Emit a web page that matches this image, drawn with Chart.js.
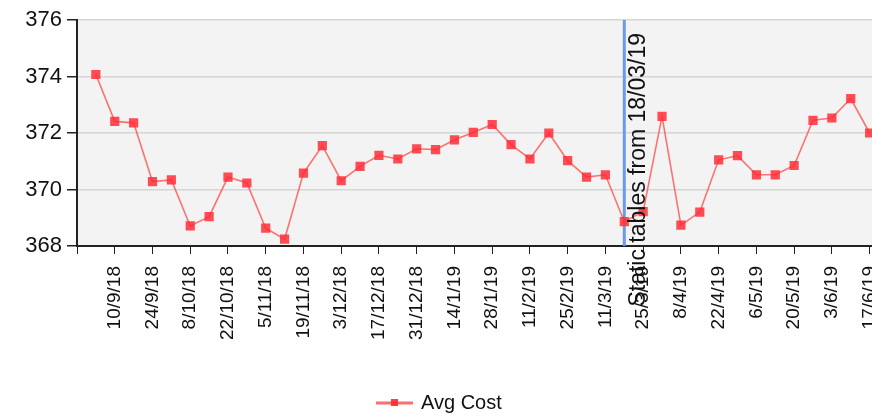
<!DOCTYPE html>
<html>
<head>
<meta charset="utf-8">
<script src="https://cdn.jsdelivr.net/npm/chart.js@4"></script>
<style>
  html, body { margin: 0; padding: 0; background: #fff; overflow: hidden; }
  #wrap { width: 895px; height: 417px; }
</style>
</head>
<body>
<div id="wrap"><canvas id="costChart" width="895" height="417"></canvas></div>
<script>
// semanas (lunes); el primer y el último hueco no tienen dato
const weeks = [
  '27/8/18', '3/9/18', '10/9/18', '17/9/18', '24/9/18', '1/10/18', '8/10/18', '15/10/18',
  '22/10/18', '29/10/18', '5/11/18', '12/11/18', '19/11/18', '26/11/18', '3/12/18', '10/12/18',
  '17/12/18', '24/12/18', '31/12/18', '7/1/19', '14/1/19', '21/1/19', '28/1/19', '4/2/19',
  '11/2/19', '18/2/19', '25/2/19', '4/3/19', '11/3/19', '18/3/19', '25/3/19', '1/4/19',
  '8/4/19', '15/4/19', '22/4/19', '29/4/19', '6/5/19', '13/5/19', '20/5/19', '27/5/19',
  '3/6/19', '10/6/19', '17/6/19', '24/6/19'
];
const avgCost = [
  null, 374.07, 372.41, 372.36, 370.28, 370.34, 368.71, 369.04,
  370.44, 370.23, 368.63, 368.24, 370.58, 371.55, 370.31, 370.82,
  371.21, 371.08, 371.44, 371.41, 371.76, 372.02, 372.30, 371.59,
  371.08, 372.00, 371.02, 370.44, 370.52, 368.86, 369.22, 372.59,
  368.74, 369.20, 371.05, 371.20, 370.52, 370.52, 370.85, 372.45,
  372.53, 373.22, 372.00, null
];
const yTicks = [368, 370, 372, 374, 376];
const markerWeek = '18/3/19';
const markerText = 'Static tables from 18/03/19';

// fondo gris del área, línea azul y texto vertical
const extras = {
  id: 'extras',
  beforeDraw(chart) {
    const { ctx, chartArea: a } = chart;
    ctx.save();
    ctx.fillStyle = '#f3f3f3';
    ctx.fillRect(a.left, a.top, a.right - a.left, a.bottom - a.top);
    ctx.restore();
  },
  beforeDatasetsDraw(chart) {
    const { ctx, chartArea: a, scales } = chart;
    const x = scales.x.getPixelForValue(weeks.indexOf(markerWeek));
    ctx.save();
    ctx.strokeStyle = '#6b9be6';
    ctx.lineWidth = 3;
    ctx.beginPath();
    ctx.moveTo(x, a.top);
    ctx.lineTo(x, a.bottom);
    ctx.stroke();
    ctx.restore();
  },
  afterDraw(chart) {
    const { ctx, scales } = chart;
    const x = scales.x.getPixelForValue(weeks.indexOf(markerWeek));
    ctx.save();
    ctx.translate(x + 21, 33);
    ctx.rotate(-Math.PI / 2);
    ctx.font = '23px "Liberation Sans", Arial, sans-serif';
    ctx.fillStyle = '#111';
    ctx.textAlign = 'right';
    ctx.textBaseline = 'alphabetic';
    ctx.fillText(markerText, 0, 0);
    ctx.restore();

    // leyenda
    ctx.save();
    ctx.strokeStyle = 'rgba(255,60,60,0.75)';
    ctx.lineWidth = 3;
    ctx.beginPath();
    ctx.moveTo(376, 403);
    ctx.lineTo(413, 403);
    ctx.stroke();
    ctx.fillStyle = 'rgba(255,40,50,0.9)';
    ctx.fillRect(391, 399, 7, 7);
    ctx.font = '20px "Liberation Sans", Arial, sans-serif';
    ctx.fillStyle = '#111';
    ctx.textBaseline = 'middle';
    ctx.fillText('Avg Cost', 421, 403);
    ctx.restore();
  }
};

new Chart(document.getElementById('costChart'), {
  type: 'line',
  data: {
    labels: weeks,
    datasets: [{
      label: 'Avg Cost',
      data: avgCost,
      borderColor: 'rgba(255,80,80,0.8)',
      borderWidth: 1.6,
      backgroundColor: 'rgba(255,45,55,0.85)',
      pointStyle: 'rect',
      pointRadius: 6.5,
      pointBorderWidth: 0,
      tension: 0,
      spanGaps: false
    }]
  },
  options: {
    responsive: false,
    animation: false,
    layout: { padding: { top: 20, right: 0, bottom: 0, left: 0 } },
    plugins: { legend: { display: false }, tooltip: { enabled: false } },
    scales: {
      x: {
        offset: false,
        afterFit: (s) => {
          s.height = 171;
          s.paddingLeft = 0;
          s.paddingRight = 0;
        },
        border: { color: '#222', width: 2 },
        grid: {
          drawOnChartArea: false,
          tickLength: 8,
          tickColor: (c) => (c.index % 2 === 0 ? '#222' : 'rgba(0,0,0,0)')
        },
        ticks: {
          autoSkip: false,
          maxRotation: 90,
          minRotation: 90,
          padding: 12,
          color: '#111',
          font: { family: '"Liberation Sans", Arial, sans-serif', size: 19 },
          callback: (v, i) => (i > 0 && i % 2 === 0 ? weeks[i] : '')
        }
      },
      y: {
        min: 368,
        max: 376,
        afterFit: (s) => { s.width = 77; },
        afterBuildTicks: (s) => { s.ticks = yTicks.map(v => ({ value: v })); },
        border: { color: '#222', width: 2 },
        grid: { color: '#d6d6d6', lineWidth: 1.5, tickColor: '#222', tickLength: 10 },
        ticks: {
          padding: 5,
          color: '#111',
          font: { family: '"Liberation Sans", Arial, sans-serif', size: 22 }
        }
      }
    }
  },
  plugins: [extras]
});
</script>
</body>
</html>
